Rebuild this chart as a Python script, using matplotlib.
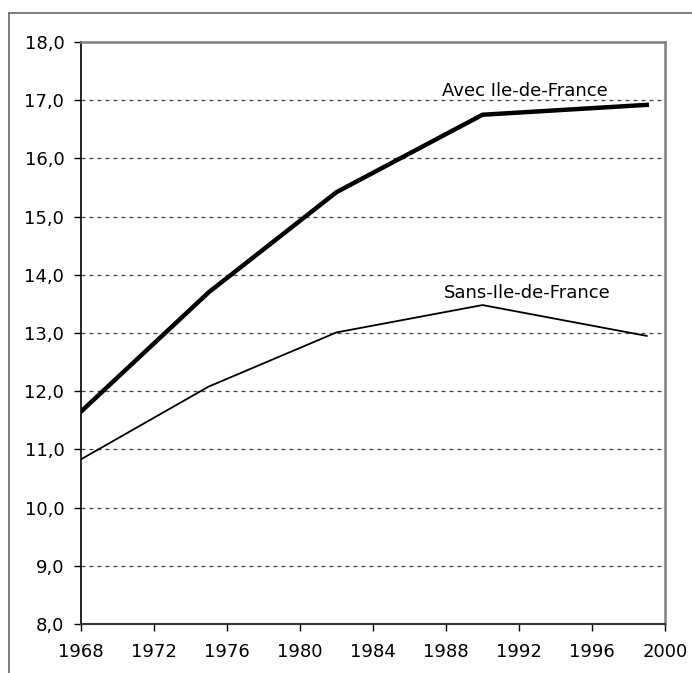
import matplotlib
matplotlib.use("Agg")
import matplotlib.pyplot as plt
from matplotlib.lines import Line2D
from matplotlib.ticker import FuncFormatter

years = [1968, 1975, 1982, 1990, 1999]
avec_idf = [11.65, 13.70, 15.42, 16.75, 16.92]
sans_idf = [10.83, 12.08, 13.01, 13.48, 12.95]
x_ticks = list(range(1968, 2001, 4))
y_ticks = [8, 9, 10, 11, 12, 13, 14, 15, 16, 17, 18]

plt.rcParams["font.family"] = ["DejaVu Sans"]

fig = plt.figure(figsize=(6.92, 6.73), dpi=100)
ax = fig.add_axes([81/692, 49/673, (665-81)/692, (624-42)/673])

for y in y_ticks[1:-1]:
    ax.axhline(y, color="#444444", lw=0.9, ls=(0, (3.2, 3.2)), zorder=1)

ax.plot(years, avec_idf, color="black", lw=3.2, solid_joinstyle="miter", zorder=3)
ax.plot(years, sans_idf, color="black", lw=1.3, zorder=3)

ax.text(1987.8, 17.07, "Avec Ile-de-France", fontsize=13, va="baseline", ha="left")
ax.text(1987.9, 13.60, "Sans-Ile-de-France", fontsize=13, va="baseline", ha="left")

ax.set_xlim(1968, 2000)
ax.set_ylim(8, 18)
ax.set_xticks(x_ticks)
ax.set_yticks(y_ticks)
ax.yaxis.set_major_formatter(FuncFormatter(lambda v, p: f"{v:.1f}".replace(".", ",")))
ax.tick_params(axis="both", labelsize=13, direction="out", length=5, width=1, color="black")
ax.tick_params(axis="y", pad=7)
ax.tick_params(axis="x", pad=9)

ax.spines["left"].set_color("black")
ax.spines["left"].set_linewidth(1.2)
ax.spines["bottom"].set_color("#333333")
ax.spines["bottom"].set_linewidth(1.5)
ax.spines["top"].set_color("#808080")
ax.spines["top"].set_linewidth(1.8)
ax.spines["right"].set_color("#808080")
ax.spines["right"].set_linewidth(1.8)

# outer frame (left and top edges visible)
fig.add_artist(Line2D([9/692, 9/692], [0, 1 - 13/673], color="#666666", lw=1.2, transform=fig.transFigure))
fig.add_artist(Line2D([9/692, 1], [1 - 13/673, 1 - 13/673], color="#666666", lw=1.2, transform=fig.transFigure))

fig.savefig("out.png", dpi=100)
